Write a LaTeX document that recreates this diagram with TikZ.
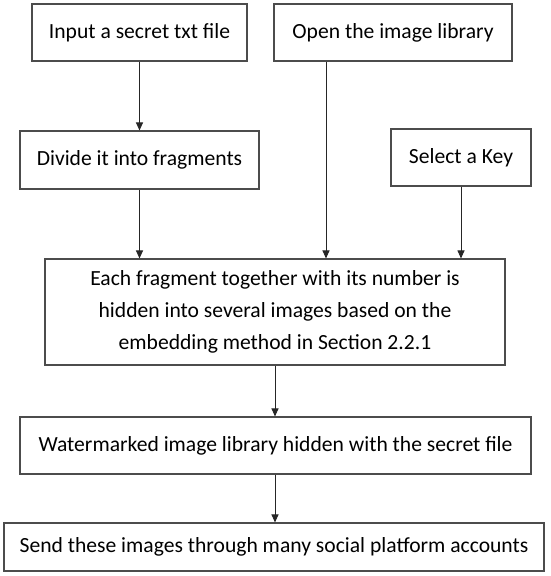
\documentclass[tikz,border=0pt]{standalone}
\usepackage{fontspec}
\setmainfont{Carlito}
\usetikzlibrary{arrows.meta, positioning, calc}

\begin{document}
\begin{tikzpicture}[x=1pt, y=-1pt,
        stepbox/.style={draw=black!70, line width=1.1pt, fill=white, align=center, inner sep=0pt,
            font=\fontsize{21.6}{32}\selectfont},
        flow/.style={-{Triangle[length=8pt, width=7pt]}, line width=1pt, black!85}]
                \useasboundingbox (0,0) rectangle (550,576);
                % Eingaben
                \node[stepbox, minimum width=215pt, minimum height=57pt] (input) at (139.5, 32.5) {Input a secret txt file};
                \node[stepbox, minimum width=238pt, minimum height=57pt] (library) at (393, 32.5) {Open the image library};
                \node[stepbox, minimum width=239pt, minimum height=58pt] (divide) at (139.5, 160) {Divide it into fragments};
                \node[stepbox, minimum width=140pt, minimum height=57pt] (key) at (461, 157.5) {Select a Key};
                % Einbetten
                \node[stepbox, minimum width=460pt, minimum height=106pt] (embed) at (275, 312)
                    {Each fragment together with its number is\\ hidden into several images based on the\\ embedding method in Section 2.2.1};
                \node[stepbox, minimum width=511pt, minimum height=57pt] (marked) at (275.5, 445.5) {Watermarked image library hidden with the secret file};
                \node[stepbox, minimum width=540pt, minimum height=48pt] (send) at (274, 547) {Send these images through many social platform accounts};
                % Pfeile
                \draw[flow] (input.south) -- (divide.north);
                \draw[flow] (divide.south) -- (divide.south |- embed.north);
                \draw[flow] ([xshift=-67pt]library.south) -- ([xshift=-67pt]library.south |- embed.north);
                \draw[flow] (key.south) -- (key.south |- embed.north);
                \draw[flow] (embed.south) -- (embed.south |- marked.north);
                \draw[flow] (embed.south |- marked.south) -- (embed.south |- send.north);
            \end{tikzpicture}
\end{document}
